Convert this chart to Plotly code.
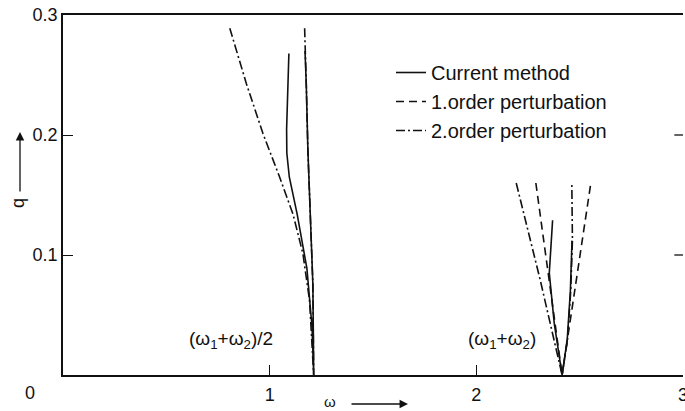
import plotly.graph_objects as go

# ---- data (omega, q) ----
# Region around (w1+w2)/2
cur_a_w = [1.093, 1.087, 1.082, 1.083, 1.095, 1.133, 1.180, 1.205, 1.213, 1.209, 1.197, 1.185, 1.177, 1.171]
cur_a_q = [0.268, 0.235, 0.205, 0.185, 0.165, 0.134, 0.089, 0.040, 0.000, 0.076, 0.132, 0.187, 0.243, 0.270]

so_a_w = [0.807, 0.887, 0.968, 1.048, 1.113, 1.161, 1.193, 1.213, 1.209, 1.197, 1.185, 1.177, 1.169]
so_a_q = [0.289, 0.243, 0.201, 0.165, 0.134, 0.101, 0.062, 0.000, 0.076, 0.132, 0.187, 0.243, 0.290]

# Region around (w1+w2)
cur_b_w = [2.369, 2.353, 2.377, 2.415, 2.440, 2.455, 2.463]
cur_b_q = [0.129, 0.085, 0.043, 0.000, 0.030, 0.070, 0.112]

fo_b_w = [2.288, 2.415, 2.554]
fo_b_q = [0.160, 0.000, 0.160]

so_b_w = [2.193, 2.308, 2.415, 2.441, 2.457, 2.465, 2.462]
so_b_q = [0.160, 0.080, 0.000, 0.029, 0.071, 0.112, 0.160]

x_ticks = [1, 2, 3]
y_ticks = [0.1, 0.2, 0.3]
y_tick_text = ["0.1", "0.2", "0.3"]
right_ticks = [0.1, 0.2]
names = ["Current method", "1.order perturbation", "2.order perturbation"]

FONT = "Liberation Sans"
BLACK = "#111111"
SOLID = "solid"
DASH = "8px,5px"
DASHDOT = "9px,3px,2px,3px"

fig = go.Figure()

def add(w, q, dash, name, show, group):
    fig.add_trace(go.Scatter(x=w, y=q, mode="lines", name=name, legendgroup=group,
                             showlegend=show, hoverinfo="skip",
                             line=dict(color=BLACK, width=1.6, dash=dash)))

add(cur_a_w, cur_a_q, SOLID, names[0], True, "c")
add(cur_b_w, cur_b_q, SOLID, names[0], False, "c")
add(fo_b_w, fo_b_q, DASH, names[1], True, "f")
add(so_a_w, so_a_q, DASHDOT, names[2], True, "s")
add(so_b_w, so_b_q, DASHDOT, names[2], False, "s")

L, R, T, B = 63, 2, 15, 36
W, H = 685, 411
PW, PH = W - L - R, H - T - B

def px(X):
    return (X - L) / PW

def py(Y):
    return (H - B - Y) / PH

fig.update_layout(
    width=W, height=H,
    margin=dict(l=L, r=R, t=T, b=B, autoexpand=False),
    paper_bgcolor="white", plot_bgcolor="white",
    font=dict(family=FONT, size=18, color=BLACK),
    xaxis=dict(range=[0, 3], tickvals=x_ticks, ticktext=[str(v) for v in x_ticks],
               ticks="inside", ticklen=10, tickwidth=1.3, tickcolor=BLACK,
               showline=True, linecolor=BLACK, linewidth=1.5, mirror=True,
               showgrid=False, zeroline=False, tickfont=dict(size=18),
               ticklabelstandoff=3, ticklabeloverflow="allow", automargin=False),
    yaxis=dict(range=[0, 0.3], tickvals=y_ticks, ticktext=y_tick_text,
               ticks="inside", ticklen=10, tickwidth=1.3, tickcolor=BLACK,
               showline=True, linecolor=BLACK, linewidth=1.5, automargin=False,
               showgrid=False, zeroline=False, tickfont=dict(size=18)),
    legend=dict(x=px(391), y=py(53), xanchor="left", yanchor="top",
                bgcolor="rgba(0,0,0,0)", font=dict(size=20, family=FONT),
                tracegroupgap=0, itemwidth=30),
    showlegend=True,
)

# short tick marks on the right-hand edge, placed through the y scale
for v in right_ticks:
    fig.add_shape(type="line", xref="paper", yref="y", x0=1.0, x1=0.986, y0=v, y1=v,
                  line=dict(color=BLACK, width=1.3))

ann = [
    dict(x=0.815, y=0.029, xref="x", yref="y", text="(ω<sub>1</sub>+ω<sub>2</sub>)/2",
         showarrow=False, font=dict(size=19), xanchor="center", yanchor="middle"),
    dict(x=2.125, y=0.029, xref="x", yref="y", text="(ω<sub>1</sub>+ω<sub>2</sub>)",
         showarrow=False, font=dict(size=19), xanchor="center", yanchor="middle"),
    dict(x=px(30), y=py(393), xref="paper", yref="paper", text="0",
         showarrow=False, font=dict(size=18), xanchor="center", yanchor="middle"),
    dict(x=px(330), y=py(401), xref="paper", yref="paper", text="ω",
         showarrow=False, font=dict(size=15), xanchor="center", yanchor="middle"),
    dict(x=px(408), y=py(404), xref="paper", yref="paper", ax=-58, ay=0,
         text="", showarrow=True, arrowhead=2,
         arrowsize=1.3, arrowwidth=1.3, arrowcolor=BLACK),
    dict(x=px(18), y=py(203), xref="paper", yref="paper", text="q", textangle=-90,
         showarrow=False, font=dict(size=18), xanchor="center", yanchor="middle"),
    dict(x=px(20), y=py(132), xref="paper", yref="paper", ax=0, ay=61,
         text="", showarrow=True, arrowhead=2,
         arrowsize=1.3, arrowwidth=1.3, arrowcolor=BLACK),
]
fig.update_layout(annotations=ann)

fig.write_html("out.html")
